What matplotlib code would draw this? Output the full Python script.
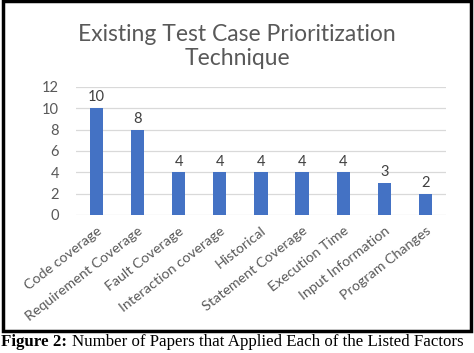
import matplotlib.pyplot as plt
import matplotlib.patches as mpatches

# factors and the number of papers that used them
factors = ['Code coverage', 'Requirement Coverage', 'Fault Coverage',
           'Interaction coverage', 'Historical', 'Statement Coverage',
           'Execution Time', 'Input Information', 'Program Changes']
papers = [10, 8, 4, 4, 4, 4, 4, 3, 2]
yticks = [0, 2, 4, 6, 8, 10, 12]

bar_color = '#4472C4'
text_gray = '#595959'
grid_gray = '#D9D9D9'
font = ['Lato', 'DejaVu Sans']

fig = plt.figure(figsize=(4.74, 3.53), dpi=100)
ax = fig.add_axes([0.160, 0.391, 0.781, 0.363])

xs = list(range(len(factors)))
ax.bar(xs, papers, width=0.32, color=bar_color, zorder=3)
for x, v in zip(xs, papers):
    ax.text(x, v + 0.35, str(v), ha='center', va='bottom', fontsize=10.5,
            color='#404040', family=font)

ax.set_xlim(-0.5, len(factors) - 0.5)
ax.set_ylim(0, 12)
ax.set_yticks(yticks)
ax.set_yticklabels([str(t) for t in yticks], fontsize=10.5, color=text_gray, family=font)
ax.set_xticks(xs)
ax.set_xticklabels(factors, rotation=38, ha='right', rotation_mode='anchor',
                   fontsize=10.3, color=text_gray, family=font)
ax.tick_params(length=0)
ax.tick_params(axis='x', pad=7)
ax.tick_params(axis='y', pad=12)
ax.grid(axis='y', color=grid_gray, linewidth=0.9, zorder=0)
for s in ax.spines.values():
    s.set_visible(False)

fig.text(0.5, 0.869, 'Existing Test Case Prioritization\nTechnique', ha='center',
         va='center', fontsize=16.5, color=text_gray, family=font, linespacing=1.2)

# black frame around the chart
fig.patches.append(mpatches.Rectangle((0.007, 0.062), 0.986, 0.935, transform=fig.transFigure,
                                      fill=False, edgecolor='black', linewidth=2.5))

# caption
fig.text(0.002, 0.03, 'Figure 2:', fontsize=12.2, weight='bold', family='Liberation Serif',
         va='center', ha='left')
fig.text(0.152, 0.03, 'Number of Papers that Applied Each of the Listed Factors',
         fontsize=12.2, family='Liberation Serif', va='center', ha='left')

fig.savefig('out.png', dpi=100)
